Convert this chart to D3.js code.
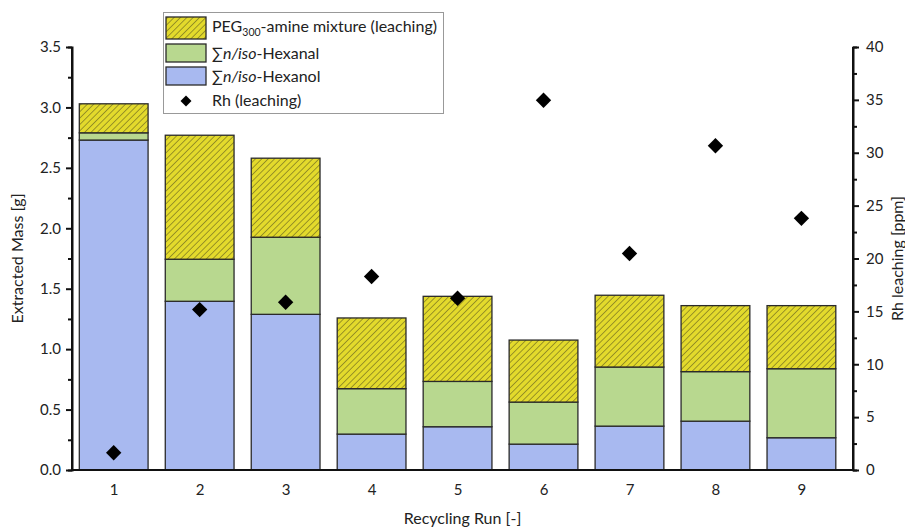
<!DOCTYPE html>
<html><head><meta charset="utf-8">
<script src="https://cdn.jsdelivr.net/npm/d3@7"></script>
<style>body{margin:0;background:#fff}text{font-family:Lato,"Open Sans",sans-serif;fill:#222}</style>
</head><body><svg id="c" width="905" height="529"></svg>
<script>
const runs = [1,2,3,4,5,6,7,8,9];
const hexanol = [2.73,1.396,1.288,0.297,0.358,0.214,0.363,0.404,0.267];
const hexanal = [0.06,0.348,0.638,0.376,0.375,0.348,0.489,0.410,0.571];
const peg = [0.24,1.026,0.654,0.585,0.704,0.513,0.594,0.546,0.522];
const rh = [1.63,15.17,15.86,18.3,16.24,34.96,20.47,30.66,23.8];
const yTicks = [0,0.5,1.0,1.5,2.0,2.5,3.0,3.5];
const y2Ticks = [0,5,10,15,20,25,30,35,40];

const colors = {hexanol:"#a8b9f0", hexanal:"#b8d88f", peg:"#e3da2c"};
const svg = d3.select("#c");
const L=72, R=853, T=47, B=470;
const x = d3.scaleLinear().domain([0.515,9.6]).range([L,R]);
const y = d3.scaleLinear().domain([0,3.5]).range([B,T]);
const y2 = d3.scaleLinear().domain([0,40]).range([B,T]);
const bw = x(1.8)-x(1);

const defs = svg.append("defs");
const pat = defs.append("pattern").attr("id","hatch").attr("patternUnits","userSpaceOnUse")
  .attr("width",4.5).attr("height",4.5).attr("patternTransform","rotate(45)");
pat.append("rect").attr("width",4.5).attr("height",4.5).attr("fill",colors.peg);
pat.append("line").attr("x1",0).attr("y1",0).attr("x2",0).attr("y2",4.5).attr("stroke","#5e5a1e").attr("stroke-width",1.1);

const keys = ["hexanol","hexanal","peg"];
const rows = runs.map((r,i)=>({run:r,hexanol:hexanol[i],hexanal:hexanal[i],peg:peg[i]}));
const stack = d3.stack().keys(keys)(rows);
stack.forEach(layer=>{
  svg.append("g").selectAll("rect").data(layer).join("rect")
    .attr("x",d=>x(d.data.run)-bw/2).attr("width",bw)
    .attr("y",d=>y(d[1])).attr("height",d=>y(d[0])-y(d[1]))
    .attr("fill",layer.key==="peg"?"url(#hatch)":colors[layer.key])
    .attr("stroke","#2a2a2a").attr("stroke-width",1.3);
});

// axes
const yAxis = d3.axisLeft(y).tickValues(yTicks).tickFormat(d3.format(".1f")).tickSize(6).tickPadding(5);
const gy = svg.append("g").attr("transform",`translate(${L},0)`).call(yAxis);
svg.append("g").attr("transform",`translate(${L},0)`)
  .call(d3.axisLeft(y).tickValues(d3.range(0.25,3.5,0.5)).tickSize(4).tickFormat(""));
const gy2 = svg.append("g").attr("transform",`translate(${R},0)`)
  .call(d3.axisRight(y2).tickValues(y2Ticks).tickSize(6).tickPadding(7));
svg.append("g").attr("transform",`translate(${R},0)`)
  .call(d3.axisRight(y2).tickValues(d3.range(2.5,40,5)).tickSize(4).tickFormat(""));
const gx = svg.append("g").attr("transform",`translate(0,${B})`)
  .call(d3.axisBottom(x).tickValues(runs).tickSize(0).tickPadding(14).tickFormat(d3.format("d")));
svg.selectAll(".domain").attr("stroke","#111").attr("stroke-width",2);
svg.selectAll(".tick line").attr("stroke","#111").attr("stroke-width",2);
svg.selectAll(".tick text").style("font-size","15px").attr("fill","#222");
gy.select(".domain").attr("d",`M0,${B}V${T}`);
gy2.select(".domain").attr("d",`M0,${B}V${T}`);
gx.select(".domain").attr("d",`M${L},0H${R}`);

// rh points
svg.append("g").selectAll("path").data(runs).join("path")
  .attr("d",d3.symbol(d3.symbolSquare,118)())
  .attr("transform",(d,i)=>`translate(${x(d)},${y2(rh[i])}) rotate(45)`)
  .attr("fill","#000");

// axis titles
svg.append("text").attr("transform",`translate(23,${(T+B)/2}) rotate(-90)`).attr("text-anchor","middle")
  .style("font-size","16px").text("Extracted Mass [g]");
svg.append("text").attr("transform",`translate(903,${(T+B)/2}) rotate(-90)`).attr("text-anchor","middle")
  .style("font-size","16px").text("Rh leaching [ppm]");
svg.append("text").attr("x",(L+R)/2).attr("y",524).attr("text-anchor","middle")
  .style("font-size","16px").text("Recycling Run [-]");

// legend
const lg = svg.append("g");
lg.append("rect").attr("x",163.5).attr("y",12.5).attr("width",280).attr("height",101)
  .attr("fill","#fff").attr("stroke","#999").attr("stroke-width",1);
const items = [
  {fill:"url(#hatch)", y:17, h:22},
  {fill:colors.hexanal, y:44, h:18},
  {fill:colors.hexanol, y:67, h:18}
];
items.forEach(it=>lg.append("rect").attr("x",166).attr("y",it.y).attr("width",40).attr("height",it.h)
  .attr("fill",it.fill).attr("stroke","#2a2a2a").attr("stroke-width",1.3));
lg.append("path").attr("d",d3.symbol(d3.symbolSquare,60)()).attr("transform","translate(186,101) rotate(45)").attr("fill","#000");
const t1 = lg.append("text").attr("x",212).attr("y",32).style("font-size","16px");
t1.append("tspan").text("PEG");
t1.append("tspan").attr("dy",4).style("font-size","10.5px").text("300");
t1.append("tspan").attr("dy",-4).text("-amine mixture (leaching)");
const t2 = lg.append("text").attr("x",212).attr("y",59).style("font-size","16px");
t2.append("tspan").text("∑");
t2.append("tspan").style("font-style","italic").text("n/iso");
t2.append("tspan").text("-Hexanal");
const t3 = lg.append("text").attr("x",212).attr("y",82).style("font-size","16px");
t3.append("tspan").text("∑");
t3.append("tspan").style("font-style","italic").text("n/iso");
t3.append("tspan").text("-Hexanol");
lg.append("text").attr("x",212).attr("y",106).style("font-size","16px").text("Rh (leaching)");
</script></body></html>
